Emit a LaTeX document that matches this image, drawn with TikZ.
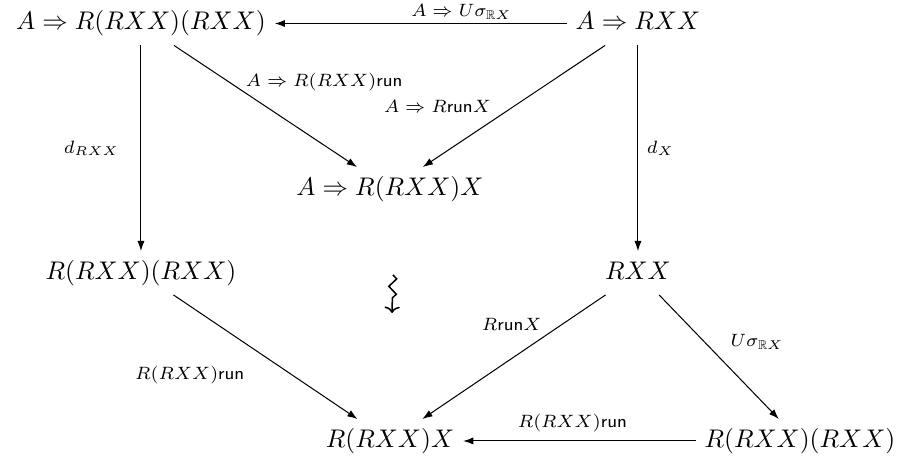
\documentclass[tikz,border=0pt]{standalone}
\usepackage{amsmath,amssymb}
\usetikzlibrary{arrows,positioning,decorations.pathmorphing}
\usepgflibrary{arrows.meta}

\begin{document}
\begin{tikzpicture}
    [map/.style={-{Latex[length=4pt,width=2.8pt]}},
    on grid,
    obj/.style={text height=1.75ex, text depth=.6ex},
    lbl/.style={font=\scriptsize},
    squig/.style={line width=0.6pt, decorate, decoration={zigzag, amplitude=1.5pt, segment length=6pt, post length=5pt}, -{Computer Modern Rightarrow[length=2.5pt, width=6pt]}}]
        \useasboundingbox (-1.943,0.324) rectangle (10.531,-6.030);
        %% top row
        \node[obj] (TL) {$A \Rightarrow R(RXX)(RXX)$};
        \node[obj, right=6.85cm of TL] (TR) {$A \Rightarrow RXX$};
        \node[obj, below right=2.281cm and 3.432cm of TL] (M) {$A \Rightarrow R(RXX)X$};
        %% middle row
        \node[obj, below=3.439cm of TL] (ML) {$R(RXX)(RXX)$};
        \node[obj, below=3.439cm of TR] (MR) {$RXX$};
        %% bottom row
        \node[obj, below=3.473cm of M] (B) {$R(RXX)X$};
        \node[obj, right=5.651cm of B] (BR) {$R(RXX)(RXX)$};

        \draw[map] (TR) to node[lbl, pos=.36, above, inner sep=1.5pt] {$A \Rightarrow U\sigma_{\mathbb{R}X}$} (TL);
        \draw[map] (TL) to node[lbl, pos=.4, above right, xshift=-4pt, yshift=-2.5pt] {$A \Rightarrow R(RXX)\mathsf{run}$} (M);
        \draw[map] (TR) to node[lbl, pos=.5, left, xshift=-5.5pt] {$A \Rightarrow R\mathsf{run}X$} (M);
        \draw[map] (TL) to node[lbl, left=5pt] {$d_{RXX}$} (ML);
        \draw[map] (TR) to node[lbl, right] {$d_X$} (MR);
        \draw[map] (ML) to node[lbl, pos=.42, below left, yshift=-4pt, xshift=1pt] {$R(RXX)\mathsf{run}$} (B);
        \draw[map] (MR) to node[lbl, pos=.3, above left, yshift=-2.7pt] {$R\mathsf{run}X$} (B);
        \draw[map] (MR) to node[lbl, pos=.35, right=8pt, yshift=-1.5pt] {$U\sigma_{\mathbb{R}X}$} (BR);
        \draw[map] (BR) to node[lbl, pos=.53, above] {$R(RXX)\mathsf{run}$} (B);

        %% squiggly arrow
        \coordinate[below=1.185cm of M, xshift=0.041cm] (q1);
        \coordinate[below=1.709cm of M, xshift=0.028cm] (q2);
        \draw[squig] (q1) -- (q2);
    \end{tikzpicture}
\end{document}
